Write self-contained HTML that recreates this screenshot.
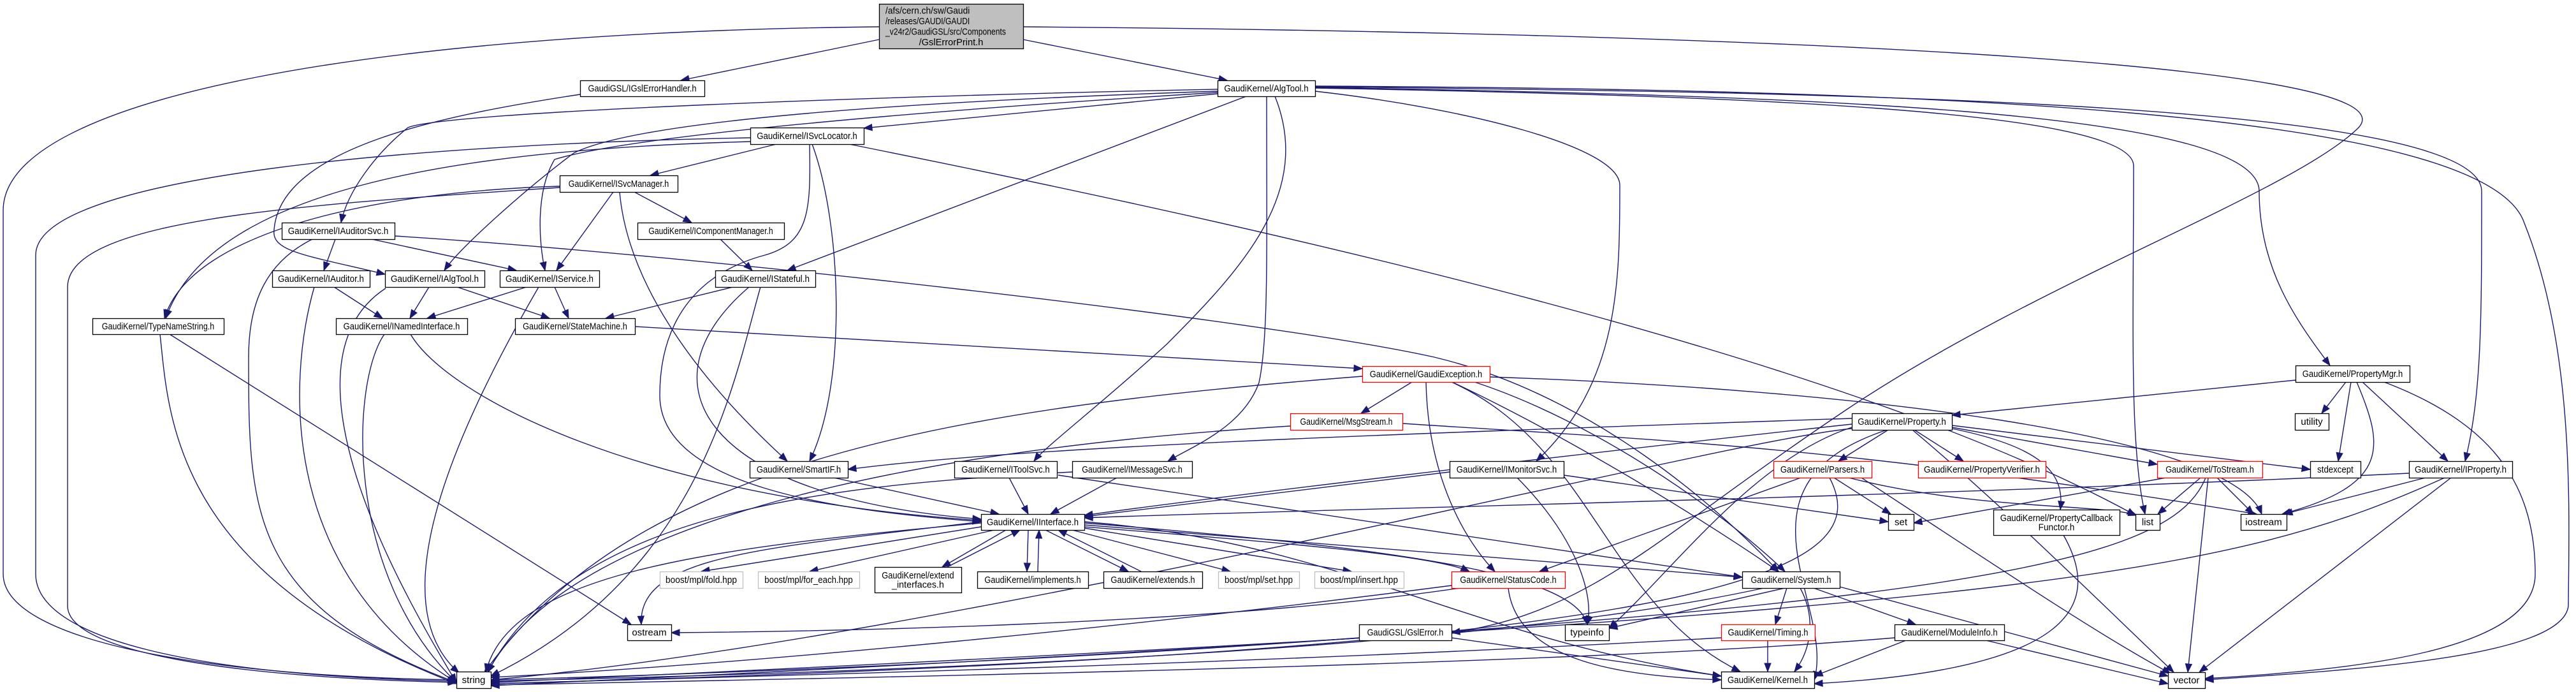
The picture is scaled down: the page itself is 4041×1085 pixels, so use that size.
<!DOCTYPE html>
<html><head><meta charset="utf-8"><style>
html,body{margin:0;padding:0;background:#fff}
svg{display:block}
text{font-family:"Liberation Sans",sans-serif;font-size:15px;fill:#000}
</style></head><body>
<svg id="g" width="4041" height="1085" viewBox="0 0 4041 1085" xmlns="http://www.w3.org/2000/svg">
<rect width="4041" height="1085" fill="#fff"/>
<g id="edges" fill="none" stroke="#191970" stroke-width="1.4"></g>
<g id="arrows" fill="#191970" stroke="#191970"></g>
<g id="nodes"></g>
</svg>
<script>
var N=[
["main",1379,6,1605,76,["/afs/cern.ch/sw/Gaudi","/releases/GAUDI/GAUDI","_v24r2/GaudiGSL/src/Components","/GslErrorPrint.h"],"m"],
["gsleh",910,126,1105,151,["GaudiGSL/IGslErrorHandler.h"]],
["algtool",1910,126,2063,151,["GaudiKernel/AlgTool.h"]],
["svcloc",1177,200,1355,226,["GaudiKernel/ISvcLocator.h"]],
["svcmgr",878,275,1063,301,["GaudiKernel/ISvcManager.h"]],
["audsvc",442,349,619,375,["GaudiKernel/IAuditorSvc.h"]],
["compmgr",1000,349,1230,375,["GaudiKernel/IComponentManager.h"]],
["auditor",427,424,580,450,["GaudiKernel/IAuditor.h"]],
["ialgtool",604,424,760,450,["GaudiKernel/IAlgTool.h"]],
["iservice",784,424,940,450,["GaudiKernel/IService.h"]],
["stateful",1122,424,1279,450,["GaudiKernel/IStateful.h"]],
["tns",145,499,351,524,["GaudiKernel/TypeNameString.h"]],
["named",527,499,733,524,["GaudiKernel/INamedInterface.h"]],
["statem",808,499,996,524,["GaudiKernel/StateMachine.h"]],
["gexc",2137,574,2337,599,["GaudiKernel/GaudiException.h"],"r"],
["propmgr",3601,573,3780,599,["GaudiKernel/PropertyMgr.h"]],
["msgs",2024,648,2200,674,["GaudiKernel/MsgStream.h"],"r"],
["prop",2905,648,3062,674,["GaudiKernel/Property.h"]],
["utility",3600,648,3653,674,["utility"]],
["smartif",1176,723,1330,749,["GaudiKernel/SmartIF.h"]],
["toolsvc",1497,723,1658,749,["GaudiKernel/IToolSvc.h"]],
["msgsvc",1682,723,1870,749,["GaudiKernel/IMessageSvc.h"]],
["monsvc",2274,723,2453,749,["GaudiKernel/IMonitorSvc.h"]],
["parsers",2782,723,2936,749,["GaudiKernel/Parsers.h"],"r"],
["pverif",3009,723,3209,749,["GaudiKernel/PropertyVerifier.h"],"r"],
["tostream",3384,723,3549,749,["GaudiKernel/ToStream.h"],"r"],
["stdexc",3624,723,3703,749,["stdexcept"]],
["iprop",3779,723,3941,749,["GaudiKernel/IProperty.h"]],
["iinter",1539,806,1701,831,["GaudiKernel/IInterface.h"]],
["set",2962,806,3002,831,["set"]],
["pcf",3127,799,3325,839,["GaudiKernel/PropertyCallback","Functor.h"]],
["list",3350,806,3388,831,["list"]],
["iostream",3515,806,3587,831,["iostream"]],
["fold",1035,896,1165,922,["boost/mpl/fold.hpp"],"g"],
["foreach",1189,896,1348,922,["boost/mpl/for_each.hpp"],"g"],
["extint",1372,889,1508,929,["GaudiKernel/extend","_interfaces.h"]],
["impl",1533,896,1707,922,["GaudiKernel/implements.h"]],
["extends",1731,896,1886,922,["GaudiKernel/extends.h"]],
["setmpl",1911,896,2038,922,["boost/mpl/set.hpp"],"g"],
["insert",2062,896,2202,922,["boost/mpl/insert.hpp"],"g"],
["status",2277,896,2455,922,["GaudiKernel/StatusCode.h"],"r"],
["system",2733,896,2886,922,["GaudiKernel/System.h"]],
["ostream",984,979,1053,1004,["ostream"]],
["gslerr",2132,979,2277,1004,["GaudiGSL/GslError.h"]],
["typeinfo",2455,979,2524,1004,["typeinfo"]],
["timing",2700,979,2847,1004,["GaudiKernel/Timing.h"],"r"],
["modinfo",2972,979,3144,1004,["GaudiKernel/ModuleInfo.h"]],
["string",716,1053,770,1079,["string"]],
["kernel",2700,1053,2846,1079,["GaudiKernel/Kernel.h"]],
["vector",3401,1054,3459,1079,["vector"]]
];
var E=[
[1379,62,1068,126],[1605,62,1925,126],
[1379,42,600,50,5,150,5,330,5,700,5,800,5,900,5,1000,300,1060,716,1066],
[1605,42,2600,50,3800,90,3700,200,3600,300,3200,440,2900,640,2600,840,2500,960,2277,992],
[910,148,700,180,440,230,430,360,425,395,480,400,604,430],
[1910,140,1400,150,700,175,640,200,590,240,545,300,535,349],
[1910,143,1400,160,1000,190,900,240,820,300,720,390,697,424],
[1910,145,1500,170,1000,210,870,250,840,300,845,380,855,424],
[1910,147,1355,201],[1955,151,1235,424],
[2000,151,2060,300,1950,420,1830,540,1720,640,1640,700,1622,723],
[1987,151,1987,400,1990,530,1975,600,1950,670,1870,700,1832,723],
[2063,143,2300,170,2540,230,2541,290,2541,440,2541,600,2410,723],
[2063,138,2700,150,3346,170,3347,260,3347,500,3340,700,3365,806],
[2063,137,2800,150,3544,170,3544,300,3544,420,3600,500,3655,573],
[2063,136,2900,145,3893,160,3893,300,3893,500,3893,620,3867,723],
[2063,135,3000,140,3900,170,3960,350,4040,550,4030,800,4029,950,4020,1030,3700,1050,3459,1066],
[1218,226,1020,275],
[1177,216,700,225,56,270,56,400,56,700,56,850,56,900,56,1000,300,1060,716,1068],
[1177,222,700,235,330,300,260,499],
[1274,226,1320,350,1330,600,1270,723],
[1270,226,1272,330,1270,380,1200,400,1050,440,1035,560,1035,620,1035,760,1300,800,1539,818],
[1332,226,2000,360,2900,560,3350,808],
[995,301,1085,349],[962,301,873,424],
[972,301,985,450,1100,600,1235,723],
[878,294,500,320,106,340,106,450,106,700,106,900,106,950,106,1020,350,1062,716,1070],
[878,292,600,300,300,360,258,499],
[1130,375,1180,424],[526,375,508,424],[583,375,810,424],
[490,375,420,410,390,470,390,560,390,800,390,950,716,1070],
[619,370,1100,400,2000,504,2250,560,2500,620,2700,800,2790,896],
[524,450,600,499],[493,450,450,600,440,900,716,1070],
[673,450,643,499],[717,450,862,499],[605,452,500,520,490,700,716,1070],
[826,450,670,499],[870,450,892,499],[845,450,700,700,600,950,720,1055],
[996,512,2137,578],[1150,450,950,499],
[1175,450,1000,600,1100,780,1539,814],
[1193,450,1150,600,1100,900,770,1060],
[251,524,265,650,268,900,716,1072],[266,524,990,979],
[644,524,700,620,1000,780,1539,816],[603,524,550,600,540,900,716,1070],
[2215,599,2135,648],[2237,599,2240,750,2300,850,2345,896],
[2278,599,2450,680,2650,800,2790,896],[2313,599,2500,660,2700,800,2800,896],
[2337,591,2900,610,3500,680,3548,806],[2137,590,1500,640,1000,720,760,1054],
[2277,599,2500,700,2520,950,2730,1053],
[2200,664,2600,690,2900,700,3540,806],[2024,668,1500,700,900,800,765,1054],
[1308,749,1567,806],[1583,749,1613,806],[1660,745,2733,905],[1752,749,1648,806],
[1682,740,1300,760,900,800,765,1054],
[2274,740,1701,810],[2453,745,2962,818],[2380,749,2480,850,2500,940,2490,979],
[2905,656,2200,680,1600,700,1330,736],[2905,665,2400,720,1900,780,1701,808],
[2962,674,2884,723],[3003,674,3080,723],[3062,670,3384,728],[3062,667,3624,736],
[3062,672,3200,700,3240,740,3232,799],[2905,670,2750,720,2620,900,2524,985],
[2960,674,2700,760,2880,950,2846,1066],[2905,672,2700,690,1500,1000,770,1066],
[3000,674,3150,800,3300,950,3410,1054],
[2825,749,2415,896],[2877,749,2966,806],[2900,749,3100,800,3300,790,3352,808],
[2920,749,3150,900,3300,1000,3405,1056],[2870,749,2950,900,2700,1020,770,1072],
[3452,749,3385,806],[3478,749,3535,806],[3464,749,3432,1054],[3398,749,3002,820],
[3460,749,3400,900,3000,970,770,1075],
[3601,596,3062,651],[3680,599,3642,648],[3688,599,3668,723],[3706,599,3840,723],
[3697,599,3740,700,3750,760,3580,806],
[3740,599,3900,660,3977,750,3977,900,3977,1020,3700,1050,3459,1064],
[3805,749,3583,806],[3845,749,3450,1054],[3835,749,3500,900,3200,960,770,1070],
[3779,742,3000,780,2000,800,1701,812],
[3237,839,3300,950,3250,1050,2846,1072],
[2800,922,2524,985],[2824,922,2850,970,2840,1020,2815,1053],[2803,922,2785,979],
[2845,922,3005,979],[2886,920,3401,1060],[2767,922,2500,980,2000,1040,770,1068],
[2773,1004,2773,1053],[2700,1000,2000,1040,1200,1060,770,1072],
[2990,1004,2846,1060],[3115,1004,3401,1072],[2972,1000,2500,1040,1500,1060,770,1074],
[2366,922,2380,1040,2550,1060,2700,1066],[2290,922,1900,980,1300,990,1053,992],
[2277,918,1800,980,1200,1040,770,1062],
[2277,1000,2700,1060],[2132,1000,1600,1040,1000,1060,770,1066],
[1539,826,1100,896],[1560,831,1270,896],[1578,831,1478,889],[1486,889,1600,831],
[1613,831,1611,896],[1628,896,1630,831],[1640,831,1770,896],[1790,896,1660,831],
[1682,831,1930,896],[1701,828,2120,896],[1701,826,2000,850,2250,870,2305,896],
[1701,823,2733,905],[1701,820,2200,860,2470,900,2490,979],
[1701,818,2100,850,2300,1000,2700,1060],[1539,820,1100,860,800,900,762,1054],
[1539,818,1200,860,1000,870,1006,979]
];
var NS="http://www.w3.org/2000/svg";
function el(t,a,p){var e=document.createElementNS(NS,t);for(var k in a)e.setAttribute(k,a[k]);p.appendChild(e);return e;}
var eg=document.getElementById("edges"),ag=document.getElementById("arrows"),ng=document.getElementById("nodes");
E.forEach(function(p){
  var d="M"+p[0]+","+p[1];
  if(p.length==4){d+=" L"+p[2]+","+p[3];}
  else{for(var i=2;i<p.length;i+=6)d+=" C"+p[i]+","+p[i+1]+" "+p[i+2]+","+p[i+3]+" "+p[i+4]+","+p[i+5];}
  var n=p.length,ex=p[n-2],ey=p[n-1],px=p[n-4],py=p[n-3];
  var dx=ex-px,dy=ey-py,L=Math.sqrt(dx*dx+dy*dy)||1;dx/=L;dy/=L;
  el("path",{d:d},eg);
  var bx=ex-dx*13,by=ey-dy*13,nx=-dy*5,ny=dx*5;
  el("polygon",{points:ex+","+ey+" "+(bx+nx)+","+(by+ny)+" "+(bx-nx)+","+(by-ny)},ag);
});
N.forEach(function(n){
  var x=n[1],y=n[2],w=n[3]-n[1],h=n[4]-n[2],s=n[6],lab=n[5];
  var fill=s=="m"?"#bfbfbf":"#fff",st=s=="r"?"#ff0000":(s=="g"?"#bfbfbf":"#000");
  el("rect",{x:x+0.5,y:y+0.5,width:w,height:h,fill:fill,stroke:st,"stroke-width":1.3},ng);
  var lh=s=="m"?16.5:14.5,y0=y+h/2-(lab.length-1)*lh/2+5;
  lab.forEach(function(t,i){
    var a={y:y0+i*lh};
    if(s=="m"&&i<3){a.x=x+10;}else{a.x=x+w/2;a["text-anchor"]="middle";}
    var tl=Math.min(w-18,t.length*6.3);
    if(t.length>8){a.textLength=tl;a.lengthAdjust="spacingAndGlyphs";}
    if(s=="g")a.fill="#444";
    var te=el("text",a,ng);te.textContent=t;
  });
});
</script>
</body></html>
